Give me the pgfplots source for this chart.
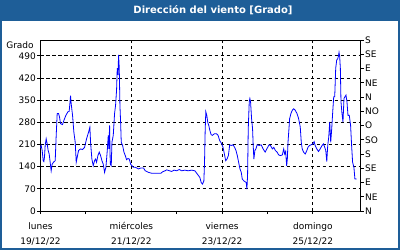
\documentclass[border=0pt]{standalone}
\usepackage{fontspec}
\setmainfont{DejaVu Sans}
\usepackage{pgfplots}
\pgfplotsset{compat=1.18}
\definecolor{barblue}{RGB}{30,94,152}
\definecolor{lineblue}{RGB}{0,0,255}
\begin{document}
\begin{tikzpicture}[x=1pt,y=1pt]
\fill[barblue] (0,0) rectangle (400,250);
\fill[white] (2,2) rectangle (398,229.3);
\node[text=white,font=\fontsize{10}{12}\selectfont\bfseries] at (213,240) {Dirección del viento [Grado]};
\node[font=\fontsize{9}{11}\selectfont] at (20,205) {Grado};
\begin{axis}[
  at={(40.5pt,39pt)}, anchor=south west, scale only axis,
  width=320pt, height=171pt,
  xmin=0, xmax=7.05, ymin=0, ymax=540,
  axis line style={line width=0.9pt},
  tick style={black, line width=0.8pt},
  tick align=outside, major tick length=3pt, minor tick length=3pt,
  xtick pos=bottom, ytick pos=left,
  ytick={0,70,...,490},
  xtick={0,2,4,6},
  minor xtick={1,3,5},
  xticklabels={{lunes\\19/12/22},{miércoles\\21/12/22},{viernes\\23/12/22},{domingo\\25/12/22}},
  xticklabel style={align=center, font=\fontsize{9}{15}\selectfont, inner sep=0pt, anchor=base, yshift=-30pt},
  yticklabel style={font=\fontsize{9}{11}\selectfont, inner sep=0pt, anchor=east, xshift=-1.5pt},
  /pgf/number format/assume math mode=true,
  xmajorgrids, ymajorgrids,
  major grid style={black, dash pattern=on 3.5pt off 2.5pt, line width=0.8pt},
  clip=false,
]
\addplot[lineblue, line width=0.8pt, mark=none] coordinates {
(0.0,200) (0.015,207) (0.037,191) (0.059,159) (0.074,156) (0.088,170) (0.103,207) (0.125,228) (0.147,212)
(0.169,191) (0.191,180) (0.213,154) (0.235,127) (0.257,148) (0.287,154) (0.324,159) (0.346,239)
(0.368,308) (0.397,308) (0.419,297) (0.441,276) (0.485,273) (0.515,286) (0.559,302) (0.603,313)
(0.632,315) (0.647,339) (0.662,364) (0.676,339) (0.706,302) (0.735,249) (0.765,217) (0.787,154)
(0.809,170) (0.838,191) (0.882,196) (0.926,194) (0.971,201) (1.015,228) (1.059,249) (1.088,265)
(1.103,217) (1.132,164) (1.162,143) (1.191,159) (1.213,164) (1.235,154) (1.265,175) (1.294,186)
(1.324,175) (1.353,159) (1.382,148) (1.412,122) (1.441,138) (1.471,191) (1.493,239) (1.507,196)
(1.522,270) (1.537,148) (1.559,143) (1.574,217) (1.603,239) (1.632,308) (1.654,334) (1.676,382)
(1.691,451) (1.706,430) (1.721,493) (1.735,451) (1.750,334) (1.765,281) (1.779,217) (1.809,207)
(1.838,186) (1.868,175) (1.897,162) (1.926,166) (1.956,164) (1.985,148) (2.015,143) (2.044,138)
(2.088,138) (2.132,135) (2.161,133) (2.212,136) (2.270,136) (2.307,127) (2.380,122) (2.453,119)
(2.562,119) (2.650,119) (2.693,124) (2.745,127) (2.781,130) (2.839,127) (2.891,125) (2.942,129)
(3.000,127) (3.058,131) (3.109,127) (3.182,129) (3.255,127) (3.328,129) (3.401,127) (3.438,120)
(3.474,113) (3.511,106) (3.540,90) (3.569,85) (3.599,95) (3.613,148) (3.628,255) (3.642,313)
(3.664,302) (3.686,279) (3.708,270) (3.730,255) (3.759,241) (3.788,239) (3.832,244) (3.876,244)
(3.912,239) (3.949,222) (3.985,214) (4.022,201) (4.051,180) (4.080,159) (4.109,164) (4.139,175)
(4.153,191) (4.168,209) (4.204,207) (4.241,209) (4.277,201) (4.307,191) (4.336,175) (4.358,159)
(4.380,143) (4.394,133) (4.423,122) (4.445,101) (4.482,95) (4.511,92) (4.533,90) (4.547,69)
(4.562,111) (4.577,260) (4.599,345) (4.613,355) (4.628,345) (4.650,292) (4.672,260) (4.686,207)
(4.701,164) (4.723,191) (4.745,196) (4.774,209) (4.818,207) (4.861,209) (4.905,196) (4.949,186)
(4.993,198) (5.036,209) (5.066,207) (5.109,196) (5.139,201) (5.175,191) (5.212,186) (5.248,177)
(5.285,175) (5.328,177) (5.358,196) (5.380,180) (5.401,188) (5.423,143) (5.438,164) (5.453,217)
(5.474,260) (5.489,292) (5.518,308) (5.547,318) (5.577,323) (5.613,318) (5.650,308) (5.686,292)
(5.723,265) (5.745,217) (5.766,196) (5.796,186) (5.832,180) (5.869,191) (5.891,201) (5.927,207)
(5.964,209) (6.000,212) (6.029,219) (6.051,207) (6.088,196) (6.124,188) (6.161,196) (6.204,207)
(6.234,212) (6.263,201) (6.285,191) (6.307,156) (6.328,207) (6.350,233) (6.372,281) (6.394,217)
(6.416,260) (6.438,313) (6.460,361) (6.482,361) (6.504,451) (6.526,477) (6.547,480) (6.562,488)
(6.577,501) (6.591,488) (6.606,451) (6.620,345) (6.642,308) (6.664,281) (6.686,355) (6.708,361)
(6.730,366) (6.752,345) (6.774,302) (6.803,302) (6.832,270) (6.854,207) (6.876,154) (6.905,138)
(6.927,101) (6.964,101)
};
\end{axis}
\begin{axis}[
  at={(40.5pt,39pt)}, anchor=south west, scale only axis,
  width=320pt, height=171pt,
  xmin=0, xmax=7.05, ymin=0, ymax=540,
  axis x line=none, axis y line*=right,
  axis line style={line width=0.9pt, -},
  tick style={black, line width=0.8pt},
  tick align=outside, major tick length=3pt,
  ytick={0,45,...,540},
  yticklabels={N,NE,E,SE,S,SO,O,NO,N,NE,E,SE,S},
  yticklabel style={font=\fontsize{9}{11}\selectfont, inner sep=0pt, anchor=west, xshift=1.5pt},
]
\end{axis}
\pgfresetboundingbox
\useasboundingbox (0,0) rectangle (400,250);
\end{tikzpicture}
\end{document}
